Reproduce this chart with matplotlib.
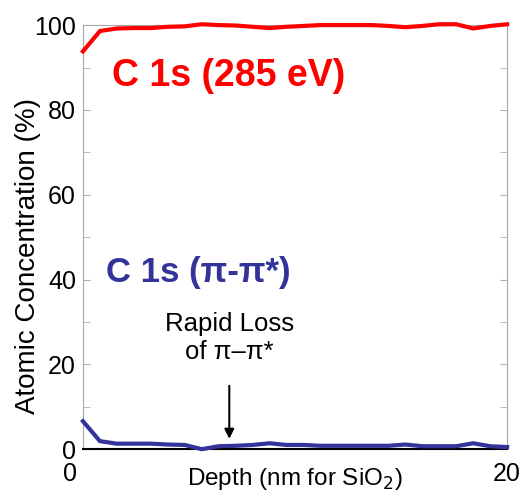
import matplotlib
matplotlib.use("Agg")
import matplotlib.pyplot as plt
import matplotlib.transforms as mtransforms
import numpy as np

plt.rcParams['font.family'] = ['Liberation Sans', 'DejaVu Sans']

# depth (nm for SiO2), sampled every 0.8 nm
depth = np.arange(26) * 0.8
c1s_285 = [93.8, 98.6, 99.2, 99.3, 99.3, 99.6, 99.7, 100.2, 100.0, 99.9,
           99.6, 99.3, 99.6, 99.8, 100.0, 100.0, 100.0, 100.0, 99.8, 99.5,
           99.8, 100.2, 100.2, 99.2, 99.8, 100.2]
c1s_pi = [6.6, 1.9, 1.3, 1.3, 1.3, 1.1, 1.0, 0.0, 0.7, 0.8,
          1.0, 1.4, 1.0, 1.0, 0.8, 0.8, 0.8, 0.8, 0.8, 1.1,
          0.7, 0.7, 0.7, 1.4, 0.7, 0.5]

fig = plt.figure(figsize=(5.25, 4.92), dpi=100)
ax = fig.add_axes([0.158, 0.087, 0.808, 0.862])

ax.plot(depth, c1s_285, color='#ff0000', lw=3, clip_on=False, zorder=3)
ax.plot(depth, c1s_pi, color='#333399', lw=3, clip_on=False, zorder=3)

ax.set_xlim(0, 20)
ax.set_ylim(0, 100)

ax.set_yticks(np.arange(0, 101, 20))
ax.set_yticks(np.arange(0, 101, 10), minor=True)
ax.tick_params(axis='y', which='both', direction='in', left=True, right=True,
               length=5, color='#b0b0b0', labelsize=18, pad=5)
ax.set_xticks([0, 20])
ax.tick_params(axis='x', length=0, labelsize=18, pad=9)
lbl0 = ax.get_xticklabels()[0]
lbl0.set_transform(lbl0.get_transform() +
                   mtransforms.ScaledTranslation(-0.13, 0, fig.dpi_scale_trans))

for s in ['left', 'top', 'right']:
    ax.spines[s].set_color('#a8a8a8')
ax.spines['bottom'].set_color('black')
ax.spines['bottom'].set_linewidth(1.5)

ax.set_xlabel('Depth (nm for SiO$_2$)', fontsize=17.5, va='center')
ax.xaxis.set_label_coords(0.5, -0.07)
ax.set_ylabel('Atomic Concentration (%)', fontsize=20, va='center')
ax.yaxis.set_label_coords(-0.13, 0.455)

ax.text(1.35, 88, 'C 1s (285 eV)', color='#ff0000', fontsize=27,
        fontweight='bold', va='center', ha='left')
ax.text(1.1, 41.7, 'C 1s (\u03c0-\u03c0*)', color='#333399', fontsize=25,
        fontweight='bold', va='center', ha='left')
ax.text(6.9, 26.2, 'Rapid Loss\nof \u03c0\u2013\u03c0*', fontsize=18.5,
        ha='center', va='center', linespacing=1.25)
ax.annotate('', xy=(6.9, 1.8), xytext=(6.9, 15.6),
            arrowprops=dict(arrowstyle='-|>', color='black', lw=1.5,
                            mutation_scale=14))

fig.savefig('out.png', dpi=100)
